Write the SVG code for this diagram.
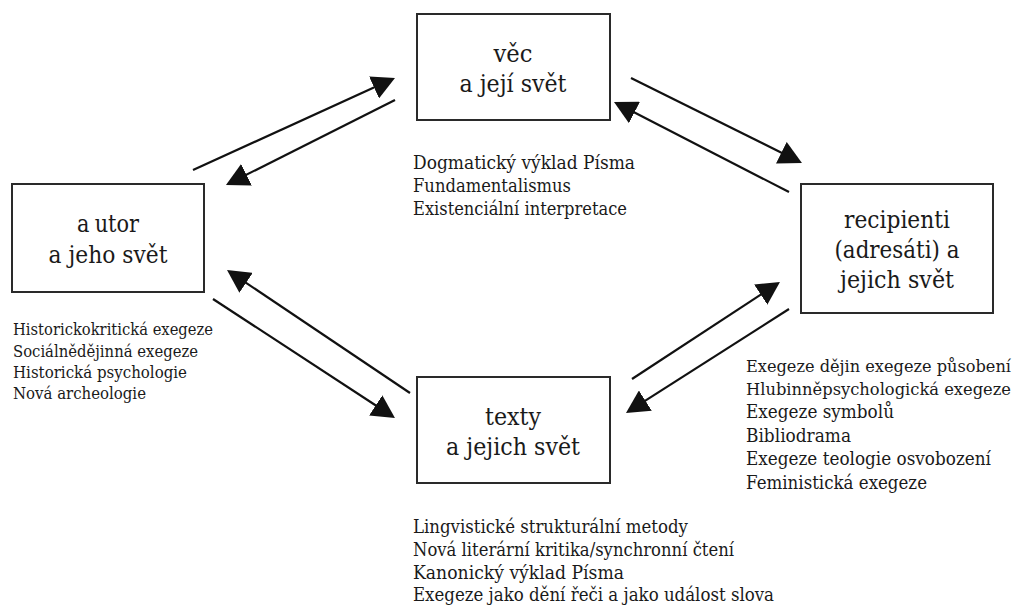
<svg xmlns="http://www.w3.org/2000/svg" width="1019" height="606" viewBox="0 0 1019 606">
<style>
text{font-family:'DejaVu Serif','Liberation Serif',serif;fill:#1a1a1a}
.box{fill:#ffffff;stroke:#2a2a2a;stroke-width:2}
.bt{font-size:24px;text-anchor:middle}
.lt{font-size:18.5px}
.lw{font-size:16px}
.ct{font-size:17px}
.arr{stroke:#111;stroke-width:2.2;fill:none;marker-end:url(#ah)}
</style>
<defs>
<marker id="ah" markerUnits="userSpaceOnUse" markerWidth="24" markerHeight="24" refX="13" refY="12" orient="auto" viewBox="0 0 24 24">
<path d="M0,0 L23,12 L0,24 Z" fill="#111"/>
</marker>
</defs>
<rect width="1019" height="606" fill="#ffffff"/>

<g id="vec">
<rect class="box" x="417" y="14" width="193" height="106"/>
<text class="bt" x="513" y="62" textLength="39" lengthAdjust="spacingAndGlyphs">věc</text>
<text class="bt" x="513" y="92" textLength="107" lengthAdjust="spacingAndGlyphs">a její svět</text>
<text class="lt" x="413" y="169" textLength="222" lengthAdjust="spacingAndGlyphs">Dogmatický výklad Písma</text>
<text class="lt" x="413" y="192" textLength="158" lengthAdjust="spacingAndGlyphs">Fundamentalismus</text>
<text class="lt" x="413" y="215" textLength="214" lengthAdjust="spacingAndGlyphs">Existenciální interpretace</text>
</g>

<g id="autor">
<rect class="box" x="12" y="184" width="192" height="108"/>
<text class="bt" x="108" y="232" textLength="62" lengthAdjust="spacingAndGlyphs"><tspan>a</tspan><tspan dx="6">utor</tspan></text>
<text class="bt" x="108" y="263" textLength="119" lengthAdjust="spacingAndGlyphs">a jeho svět</text>
<text class="ct" x="13" y="335" textLength="200" lengthAdjust="spacingAndGlyphs">Historickokritická exegeze</text>
<text class="ct" x="13" y="357" textLength="185" lengthAdjust="spacingAndGlyphs">Sociálnědějinná exegeze</text>
<text class="ct" x="13" y="378" textLength="174" lengthAdjust="spacingAndGlyphs">Historická psychologie</text>
<text class="ct" x="13" y="399" textLength="133" lengthAdjust="spacingAndGlyphs">Nová archeologie</text>
</g>

<g id="recipienti">
<rect class="box" x="801" y="184" width="192" height="129"/>
<text class="bt" x="897" y="228" textLength="106" lengthAdjust="spacingAndGlyphs">recipienti</text>
<text class="bt" x="897" y="258" textLength="125" lengthAdjust="spacingAndGlyphs">(adresáti) a</text>
<text class="bt" x="897" y="288" textLength="114" lengthAdjust="spacingAndGlyphs">jejich svět</text>
<text class="lw" x="746" y="372" textLength="265" lengthAdjust="spacingAndGlyphs">Exegeze dějin exegeze působení</text>
<text class="lw" x="746" y="395" textLength="265" lengthAdjust="spacingAndGlyphs">Hlubinněpsychologická exegeze</text>
<text class="lt" x="746" y="418" textLength="148" lengthAdjust="spacingAndGlyphs">Exegeze symbolů</text>
<text class="lt" x="746" y="442" textLength="105" lengthAdjust="spacingAndGlyphs">Bibliodrama</text>
<text class="lt" x="746" y="465" textLength="245" lengthAdjust="spacingAndGlyphs">Exegeze teologie osvobození</text>
<text class="lt" x="746" y="489" textLength="181" lengthAdjust="spacingAndGlyphs">Feministická exegeze</text>
</g>

<g id="texty">
<rect class="box" x="417" y="377" width="193" height="106"/>
<text class="bt" x="513" y="425" textLength="56" lengthAdjust="spacingAndGlyphs">texty</text>
<text class="bt" x="513" y="455" textLength="134" lengthAdjust="spacingAndGlyphs">a jejich svět</text>
<text class="lt" x="413" y="533" textLength="275" lengthAdjust="spacingAndGlyphs">Lingvistické strukturální metody</text>
<text class="lt" x="413" y="556" textLength="321" lengthAdjust="spacingAndGlyphs">Nová literární kritika/synchronní čtení</text>
<text class="lt" x="413" y="579" textLength="211" lengthAdjust="spacingAndGlyphs">Kanonický výklad Písma</text>
<text class="lt" x="413" y="601" textLength="361" lengthAdjust="spacingAndGlyphs">Exegeze jako dění řeči a jako událost slova</text>
</g>

<g id="connectors">
<line class="arr" x1="193" y1="170" x2="385.9" y2="82.1"/>
<line class="arr" x1="395" y1="100" x2="234.9" y2="180.5"/>
<line class="arr" x1="631" y1="78" x2="793.0" y2="158.5"/>
<line class="arr" x1="789" y1="192" x2="622.9" y2="106.6"/>
<line class="arr" x1="410" y1="393" x2="235.3" y2="275.6"/>
<line class="arr" x1="213" y1="299" x2="386.6" y2="412.5"/>
<line class="arr" x1="632" y1="379" x2="771.6" y2="287.5"/>
<line class="arr" x1="789" y1="309" x2="634.4" y2="407.6"/>
</g>
</svg>
